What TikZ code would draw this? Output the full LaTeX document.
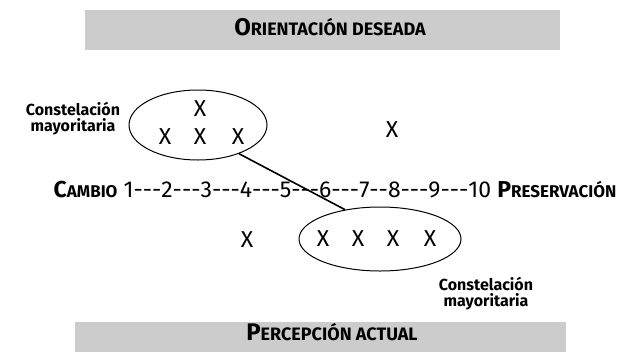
\documentclass[tikz,border=0pt]{standalone}
\usepackage{fontspec}
\setmainfont{Fira Sans}
\usetikzlibrary{shapes.geometric}
\newcommand{\sch}[3]{{\fontsize{#3}{#3}\selectfont\bfseries #1}{\fontsize{\numexpr#3*3/4\relax}{#3}\selectfont\bfseries #2}}
\newcommand{\hy}{\mbox{-}}
\newcommand{\tri}{\hy\hy\hy}
\begin{document}
\begin{tikzpicture}[x=1pt,y=-1pt,
  cross/.style={font=\fontsize{23}{23}\selectfont,inner sep=0pt},
  lbl/.style={font=\fontsize{16}{16}\selectfont\bfseries,align=center,inner sep=0pt},
  ell/.style={draw,ellipse,line width=1pt,inner sep=0pt},
  link/.style={line width=1.6pt}]
\useasboundingbox (0,0) rectangle (631,354);
% bars
\fill[black!20] (85,10) rectangle (560,50);
\node[inner sep=0pt,anchor=base] (top) at (330,35) {\sch{O}{RIENTACIÓN DESEADA}{24}};
\fill[black!20] (75,322) rectangle (566,352);
\node[inner sep=0pt,anchor=base] (bot) at (332,340) {\sch{P}{ERCEPCIÓN ACTUAL}{24}};
% top ellipse
\node[ell,minimum width=138pt,minimum height=70pt] (e1) at (198,125) {};
\node[cross] (x1) at (200,109) {X};
\node[cross] (x2) at (165,137) {X};
\node[cross] (x3) at (200,137) {X};
\node[cross] (x4) at (238,137) {X};
\node[lbl] (l1) at (73,119) {Constelación\\mayoritaria};
\node[cross] (x5) at (392,130) {X};
% scale
\node[inner sep=0pt,anchor=base,font=\fontsize{23}{23}\selectfont] (scale) at (335,197) {\sch{C}{AMBIO}{23}\fontsize{23}{23}\selectfont{} 1\tri2\tri3\tri4\tri5\tri6\tri7\hy\hy8\tri9\tri10 \sch{P}{RESERVACIÓN}{23}};
% bottom ellipse
\node[ell,minimum width=162pt,minimum height=64pt] (e2) at (380,239) {};
\node[cross] (y1) at (323,239) {X};
\node[cross] (y2) at (358,239) {X};
\node[cross] (y3) at (393,239) {X};
\node[cross] (y4) at (430,239) {X};
\node[cross] (y5) at (247,240) {X};
\node[lbl] (l2) at (486,294) {Constelación\\mayoritaria};
% link
\draw[link] (e1.-35) -- (e2.140);
\end{tikzpicture}
\end{document}
